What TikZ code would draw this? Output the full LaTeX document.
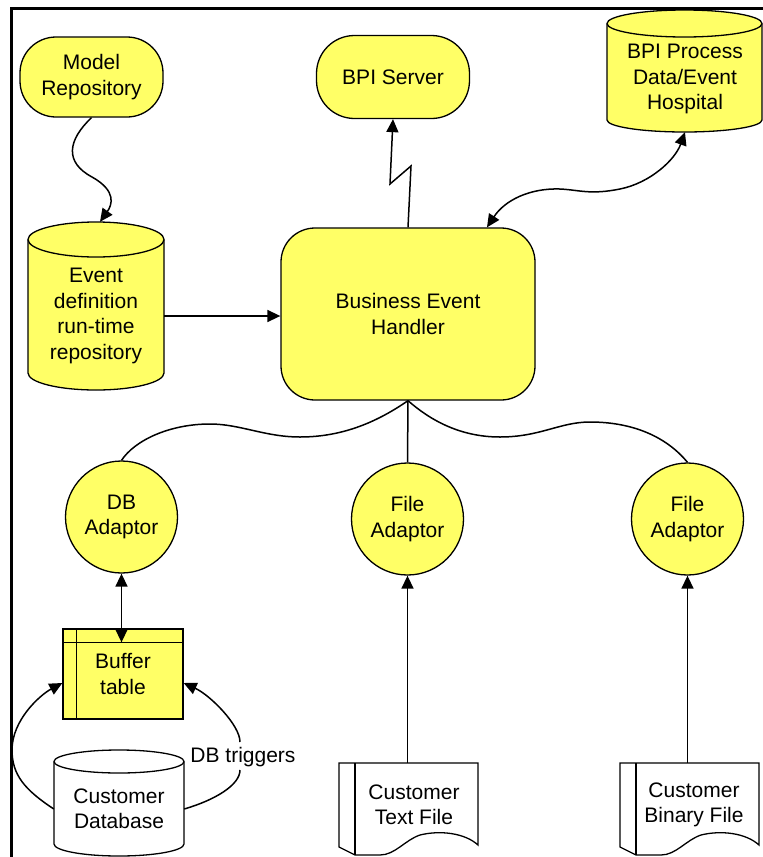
\documentclass[tikz,border=0pt]{standalone}
\usepackage{fontspec}
\setmainfont{Liberation Sans}
\usetikzlibrary{arrows.meta,calc}
\definecolor{ylw}{RGB}{255,255,102}
\newcommand{\dfont}{\fontsize{21}{25.5}\selectfont}
\tikzset{
  box/.style={draw, line width=1.3pt, fill=ylw, align=center, font=\dfont, inner sep=0pt},
  stad/.style={box, rectangle, rounded corners=#1},
  circ/.style={box, circle, minimum size=112pt},
  lab/.style={align=center, font=\dfont, inner sep=0pt},
  shp/.style={line width=1.3pt},
  conn/.style={line width=1.5pt},
  tip/.style={-{Triangle[length=13pt,width=12pt]}},
  tips/.style={{Triangle[length=13pt,width=12pt]}-{Triangle[length=13pt,width=12pt]}},
}
\begin{document}
\begin{tikzpicture}[x=1pt,y=1pt]
\useasboundingbox (0,0) rectangle (763,-857);
% frame
\draw[line width=2.5pt] (10,-8.5) -- (763,-8.5);
\draw[line width=2.5pt] (11.3,-8.5) -- (11.3,-857);

% cylinders
% Event definition
\filldraw[shp, fill=ylw] (28,-239.5) -- (28,-373) arc[start angle=180,end angle=360,x radius=68,y radius=17] -- (164,-239.5) arc[start angle=0,end angle=180,x radius=68,y radius=17.5] -- cycle;
\draw[shp] (28,-239.5) arc[start angle=180,end angle=360,x radius=68,y radius=17.5];
% Hospital
\filldraw[shp, fill=ylw] (607,-23.5) -- (607,-120) arc[start angle=180,end angle=360,x radius=77.5,y radius=12] -- (762,-23.5) arc[start angle=0,end angle=180,x radius=77.5,y radius=13.5] -- cycle;
\draw[shp] (607,-23.5) arc[start angle=180,end angle=360,x radius=77.5,y radius=13.5];
% Customer database
\filldraw[shp, fill=white] (54,-761.5) -- (54,-844) arc[start angle=180,end angle=360,x radius=65,y radius=12] -- (184,-761.5) arc[start angle=0,end angle=180,x radius=65,y radius=11.5] -- cycle;
\draw[shp] (54,-761.5) arc[start angle=180,end angle=360,x radius=65,y radius=11.5];

% documents
\foreach \dx in {0,281}{
  \begin{scope}[xshift=\dx pt]
  \filldraw[shp, fill=white] (339,-763) -- (478,-763) -- (478,-845)
    .. controls (465,-833) and (440,-830) .. (420,-835)
    .. controls (405,-840) and (395,-855) .. (380,-855)
    -- (355,-855) -- (339,-847) -- cycle;
  \draw[shp] (355,-763) -- (355,-855);
  \end{scope}
}

% nodes
\node[stad=36pt, minimum width=143pt, minimum height=80pt] (model) at (91.5,-77) {Model\\Repository};
\node[stad=38pt, minimum width=153pt, minimum height=83pt] (bpis) at (393,-77) {BPI Server};
\node[stad=34pt, minimum width=254pt, minimum height=172pt] (beh) at (408,-314) {Business Event\\Handler};
\node[lab, minimum width=136pt, minimum height=188pt] (evdef) at (96,-316) {Event\\definition\\run-time\\repository};
\node[lab, minimum width=155pt, minimum height=106pt] (hosp) at (685,-79) {BPI Process\\Data/Event\\Hospital};
\node[circ] (dba) at (121.5,-517) {DB\\Adaptor};
\node[circ] (fa1) at (407.5,-519) {File\\Adaptor};
\node[circ] (fa2) at (687.5,-519) {File\\Adaptor};
\node[box, rectangle, minimum width=120pt, minimum height=90pt] (buf) at (123,-674) {Buffer\\table};
\draw[shp] ([yshift=-14pt]buf.north west) -- ([yshift=-14pt]buf.north east);
\draw[shp] ([xshift=14pt]buf.north west) -- ([xshift=14pt]buf.south west);
\node[lab, minimum width=130pt] (cdb) at (119,-809) {Customer\\Database};
\node[lab, minimum width=123pt, minimum height=84pt] (tf) at (414,-805) {Customer\\Text File};
\node[lab, minimum width=118pt, minimum height=84pt] (bf) at (694,-805) {Customer\\Binary File};
\node[lab] (trig) at (243,-757) {DB triggers};

% connectors
\draw[conn,tip] (model.south) .. controls (68,-140) and (64,-162) .. (92,-177)
   .. controls (117,-191) and (112,-205) .. (evdef.north -| 100,0);
\draw[conn,tip] (evdef.east) -- (evdef.east -| beh.west);
\draw[conn,tip] (beh.north) -- (411,-166) -- (390,-184) -- (bpis.south);
\draw[conn,tips] ([xshift=79pt]beh.north) .. controls (505,-200) and (530,-188) .. (560,-189)
   .. controls (580,-190) and (590,-195) .. (620,-189)
   .. controls (650,-183) and (675,-160) .. (hosp.south);
\draw[conn] (beh.south) .. controls (380,-420) and (345,-437) .. (300,-437)
   .. controls (265,-437) and (240,-424) .. (210,-424)
   .. controls (170,-424) and (135,-440) .. (dba.north);
\draw[conn] (beh.south) -- (fa1.north);
\draw[conn] (beh.south) .. controls (430,-420) and (460,-437) .. (500,-437)
   .. controls (540,-437) and (560,-422) .. (590,-422)
   .. controls (630,-422) and (665,-435) .. (fa2.north);
\draw[conn,tips] (dba.south) -- ($(dba.south |- buf.north)+(0,-14)$);
\draw[conn,tip] (fa1.south |- tf.north) -- (fa1.south);
\draw[conn,tip] (fa2.south |- bf.north) -- (fa2.south);
\draw[conn,tip] (cdb.west) .. controls (25,-790) and (12,-775) .. (12,-750)
   .. controls (12,-720) and (40,-695) .. ([yshift=-9pt]buf.west);
\draw[conn,tip] (cdb.east) .. controls (215,-800) and (240,-785) .. (240,-770)
   (240,-742) .. controls (240,-725) and (210,-695) .. ([yshift=-9pt]buf.east);
\end{tikzpicture}
\end{document}
